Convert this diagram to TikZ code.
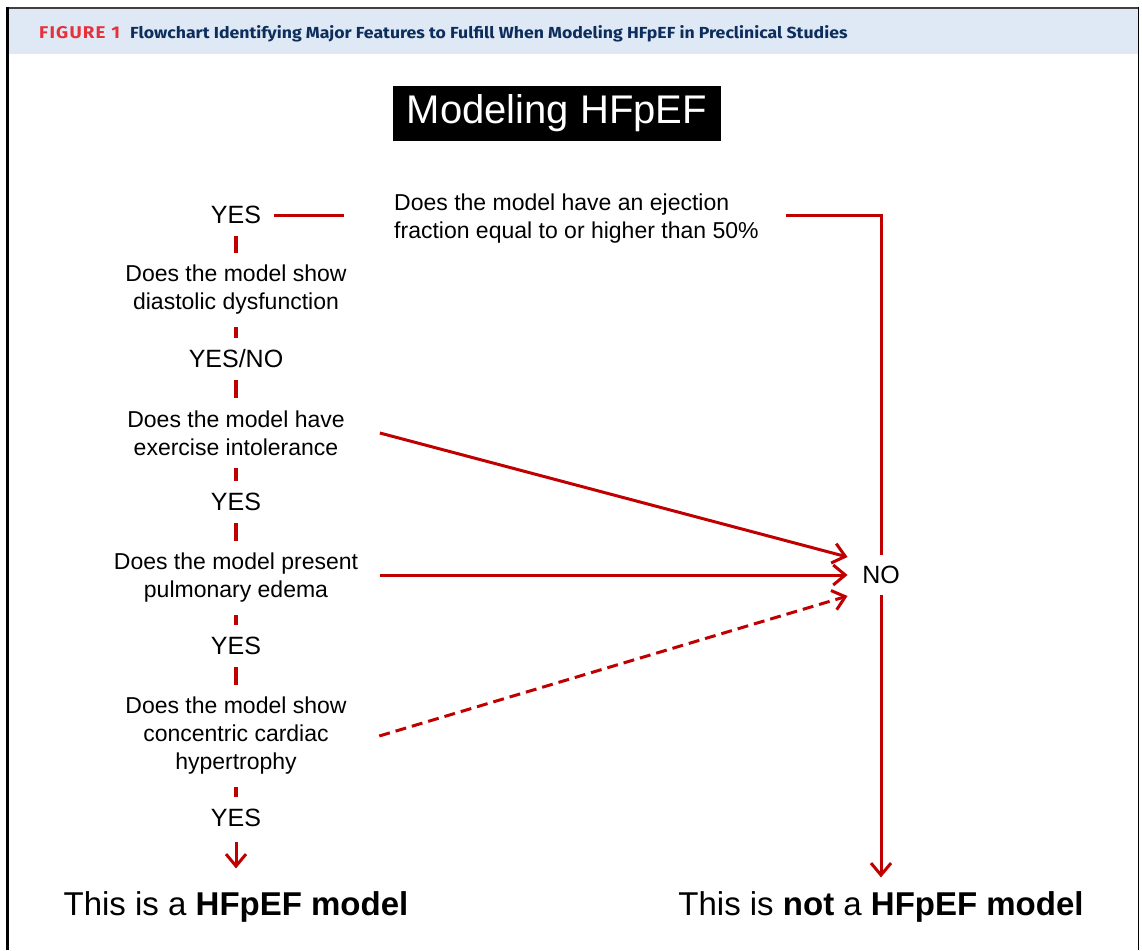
\documentclass[tikz,border=0pt]{standalone}
\usepackage{fontspec}
\setmainfont{Liberation Sans}
\newfontfamily\headfont[FakeStretch=1.105]{Fira Sans}
\usetikzlibrary{arrows.meta}
\definecolor{hfred}{HTML}{C00000}
\definecolor{hdrblue}{HTML}{DEE9F5}
\definecolor{hdrnavy}{HTML}{0D2E5C}
\definecolor{figred}{HTML}{E4313C}
\begin{document}
\begin{tikzpicture}[x=1pt,y=-1pt,
  q/.style={font=\fontsize{23}{28}\selectfont, align=center, inner sep=0pt},
  yn/.style={font=\fontsize{25}{30}\selectfont, inner sep=0pt},
  res/.style={font=\fontsize{33}{40}\selectfont, inner sep=0pt},
  redline/.style={draw=hfred, line width=3pt},
  tick/.style={draw=hfred, line width=4pt, shorten <=12pt, shorten >=12pt},
  arr/.style={redline, -{Straight Barb[length=12pt,width=20pt]}},
  hdr/.style={anchor=base west, inner sep=0pt, font=\headfont\bfseries\fontsize{16}{19}\selectfont},
]
\useasboundingbox (0,0) rectangle (1142,950);
\fill[white] (0,0) rectangle (1142,950);
% header band and frame
\fill[hdrblue] (8,9) rectangle (1138,54);
\draw[black!75, line width=2pt] (6,8) -- (1139,8);
\draw[black, line width=3pt] (7.5,7) -- (7.5,950);
\draw[black, line width=1.2pt] (1138.5,7) -- (1138.5,950);
\node[hdr, text=figred] (fig) at (39,39) {\fontsize{17}{19}\selectfont\addfontfeatures{LetterSpace=7}FIGURE 1};
\node[hdr, text=hdrnavy] (cap) at (130,39) {Flowchart Identifying Major Features to Fulfill When Modeling HFpEF in Preclinical Studies};
% title
\node[fill=black, text=white, minimum width=328pt, minimum height=55pt, inner sep=0pt, font=\fontsize{40}{48}\selectfont] (title) at (557,113.5) {Modeling HFpEF};
% left column
\node[yn] (yes0) at (236,215) {YES};
\node[q] (q1) at (236,290) {Does the model show\\diastolic dysfunction};
\node[yn] (yn1) at (236,359) {YES/NO};
\node[q] (q2) at (236,433) {Does the model have\\exercise intolerance};
\node[yn] (yes2) at (236,502) {YES};
\node[q] (q3) at (236,578) {Does the model present\\pulmonary edema};
\node[yn] (yes3) at (236,646) {YES};
\node[q] (q4) at (236,736) {Does the model show\\concentric cardiac\\hypertrophy};
\node[yn] (yes4) at (236,818) {YES};
\node[res] (res1) at (236,907) {This is a \textbf{HFpEF model}};
% right part
\node[q, align=left, anchor=west] (q0) at (394,219) {Does the model have an ejection\\fraction equal to or higher than 50\%};
\node[yn] (no) at (881,575) {NO};
\node[res] (res2) at (881,907) {This is \textbf{not} a \textbf{HFpEF model}};
% connectors
\draw[redline, shorten <=13pt, shorten >=50pt] (yes0.east) -- (yes0.east -| q0.west);
\draw[redline, shorten >=11pt] ([xshift=27pt]q0.east |- yes0.east) -| (no.north);
\draw[arr, shorten <=11pt, shorten >=14pt] (no.south) -- (res2.north);
\draw[tick] (yes0.south) -- (q1.north);
\draw[tick] (q1.south) -- (yn1.north);
\draw[tick] (yn1.south) -- (q2.north);
\draw[tick] (q2.south) -- (yes2.north);
\draw[tick] (yes2.south) -- (q3.north);
\draw[tick] (q3.south) -- (yes3.north);
\draw[tick] (yes3.south) -- (q4.north);
\draw[tick] (q4.south) -- (yes4.north);
\draw[arr, shorten <=15pt, shorten >=23pt] (yes4.south) -- (res1.north);
\draw[arr] ([xshift=35pt]q2.east) -- ([shift={(-14.5pt,18pt)}]no.west);
\draw[arr] ([xshift=22pt]q3.east |- no.west) -- ([xshift=-14.5pt]no.west);
\draw[arr, dash pattern=on 11pt off 6pt] ([xshift=32.5pt]q4.east) -- ([shift={(-14.5pt,-21pt)}]no.west);
\end{tikzpicture}
\end{document}
